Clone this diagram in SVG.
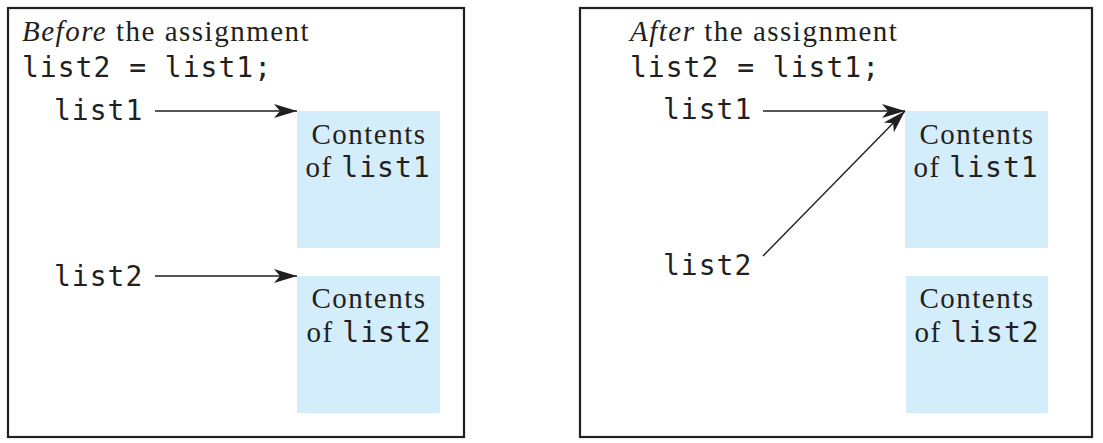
<svg xmlns="http://www.w3.org/2000/svg" width="1103" height="443" viewBox="0 0 1103 443">
<style>
.frame{fill:#fff;stroke:#231f20;stroke-width:2.2}
.box{fill:#d3edfb}
.serif{font-family:"Liberation Serif","Times New Roman",serif;font-size:29px;letter-spacing:1.5px;fill:#231f20}
.mono{font-family:"DejaVu Sans Mono","Liberation Mono",monospace;font-size:28px;letter-spacing:1px;fill:#231f20}
.conn{stroke:#231f20;stroke-width:1.4;fill:none}
</style>
<defs>
<marker id="ah" markerUnits="userSpaceOnUse" markerWidth="26" markerHeight="18" viewBox="-24 -9 26 18" refX="0" refY="0" orient="auto">
<path d="M0,0 L-23,-7 L-17,0 L-23,7 Z" fill="#231f20"/>
</marker>
</defs>
<rect width="1103" height="443" fill="#fff"/>
<g id="before-panel">
<rect class="frame" x="8" y="8" width="456" height="429"/>
<text class="serif" x="22" y="41"><tspan font-style="italic">Before</tspan> the assignment</text>
<text class="mono" x="22" y="77">list2 = list1;</text>
</g>
<g id="before-list1">
<text class="mono" x="54" y="120">list1</text>
</g>
<g id="before-contents1">
<rect class="box" x="297" y="111" width="143" height="137"/>
<text class="serif" x="369" y="144" text-anchor="middle">Contents</text>
<text class="serif" x="368" y="177" text-anchor="middle">of <tspan class="mono">list1</tspan></text>
</g>
<g id="before-list2">
<text class="mono" x="54" y="286">list2</text>
</g>
<g id="before-contents2">
<rect class="box" x="297" y="276" width="143" height="137"/>
<text class="serif" x="369" y="308" text-anchor="middle">Contents</text>
<text class="serif" x="369" y="342" text-anchor="middle">of <tspan class="mono">list2</tspan></text>
</g>
<g id="after-panel">
<rect class="frame" x="580" y="8" width="512" height="429"/>
<text class="serif" x="630" y="41"><tspan font-style="italic">After</tspan> the assignment</text>
<text class="mono" x="630" y="77">list2 = list1;</text>
</g>
<g id="after-list1">
<text class="mono" x="663" y="119">list1</text>
</g>
<g id="after-contents1">
<rect class="box" x="905" y="111" width="143" height="137"/>
<text class="serif" x="977" y="144" text-anchor="middle">Contents</text>
<text class="serif" x="976" y="177" text-anchor="middle">of <tspan class="mono">list1</tspan></text>
</g>
<g id="after-list2">
<text class="mono" x="663" y="275">list2</text>
</g>
<g id="after-contents2">
<rect class="box" x="906" y="276" width="142" height="137"/>
<text class="serif" x="977" y="308" text-anchor="middle">Contents</text>
<text class="serif" x="977" y="342" text-anchor="middle">of <tspan class="mono">list2</tspan></text>
</g>
<g id="connectors">
<line class="conn" x1="155" y1="111" x2="297" y2="111" marker-end="url(#ah)"/>
<line class="conn" x1="155" y1="276" x2="297" y2="276" marker-end="url(#ah)"/>
<line class="conn" x1="763" y1="111" x2="905" y2="111" marker-end="url(#ah)"/>
<line class="conn" x1="763" y1="256" x2="905" y2="111" marker-end="url(#ah)"/>
</g>
</svg>
